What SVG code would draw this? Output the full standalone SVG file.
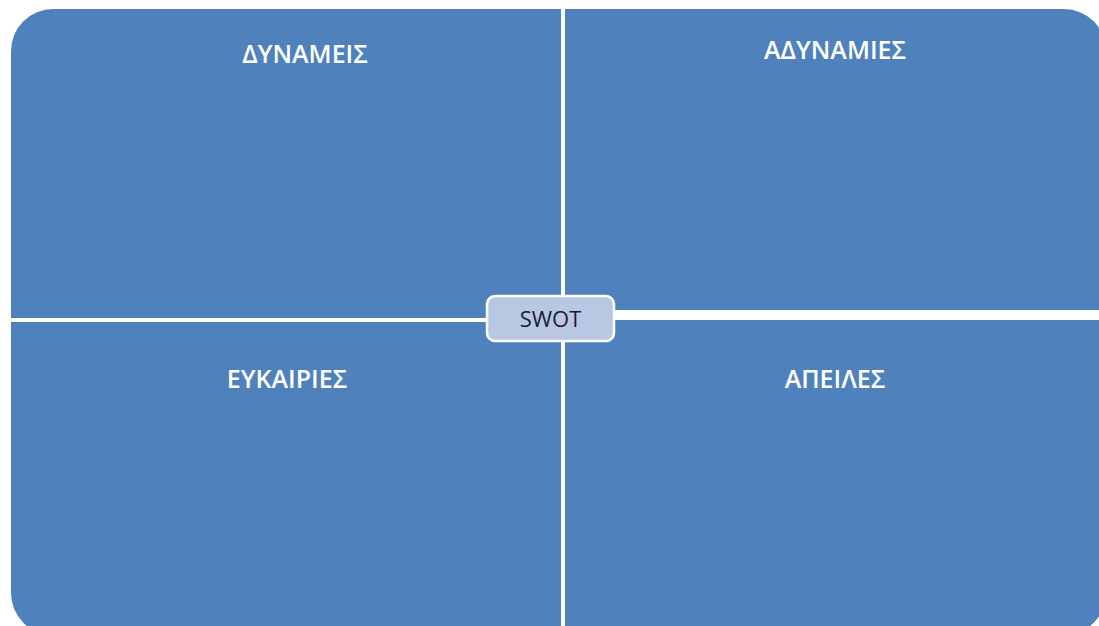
<svg xmlns="http://www.w3.org/2000/svg" width="1099" height="626" viewBox="0 0 1099 626">
  <style>
    .quad { fill: #4f81bd; }
    .label { font-family: "Open Sans", "Liberation Sans", sans-serif; font-size: 25px; font-weight: 600; fill: #ffffff; text-anchor: middle; }
    .hub { fill: #b8c8e2; stroke: #ffffff; stroke-width: 2.5; }
    .hub-text { font-family: "Open Sans", "Liberation Sans", sans-serif; font-size: 22px; font-weight: 500; fill: #1c1c38; text-anchor: middle; }
  </style>
  <rect width="1099" height="626" fill="#ffffff"/>

  <!-- Strengths -->
  <g id="strengths">
    <path class="quad" d="M11,318 V51 A42,42 0 0 1 53,9 H561 V318 Z"/>
    <text class="label" x="305" y="63">ΔΥΝΑΜΕΙΣ</text>
  </g>

  <!-- Weaknesses -->
  <g id="weaknesses">
    <path class="quad" d="M565,9 H1064 A42,42 0 0 1 1106,51 V310 H565 Z"/>
    <text class="label" x="835" y="59">ΑΔΥΝΑΜΙΕΣ</text>
  </g>

  <!-- Opportunities -->
  <g id="opportunities">
    <path class="quad" d="M11,322 H561 V635 H53 A42,42 0 0 1 11,593 Z"/>
    <text class="label" x="287" y="388">ΕΥΚΑΙΡΙΕΣ</text>
  </g>

  <!-- Threats -->
  <g id="threats">
    <path class="quad" d="M565,320 H1106 V593 A42,42 0 0 1 1064,635 H565 Z"/>
    <text class="label" x="835" y="388">ΑΠΕΙΛΕΣ</text>
  </g>

  <!-- Central hub -->
  <g id="swot">
    <rect class="hub" x="487" y="296" width="127" height="45" rx="8"/>
    <text class="hub-text" x="550.5" y="327">SWOT</text>
  </g>
</svg>
